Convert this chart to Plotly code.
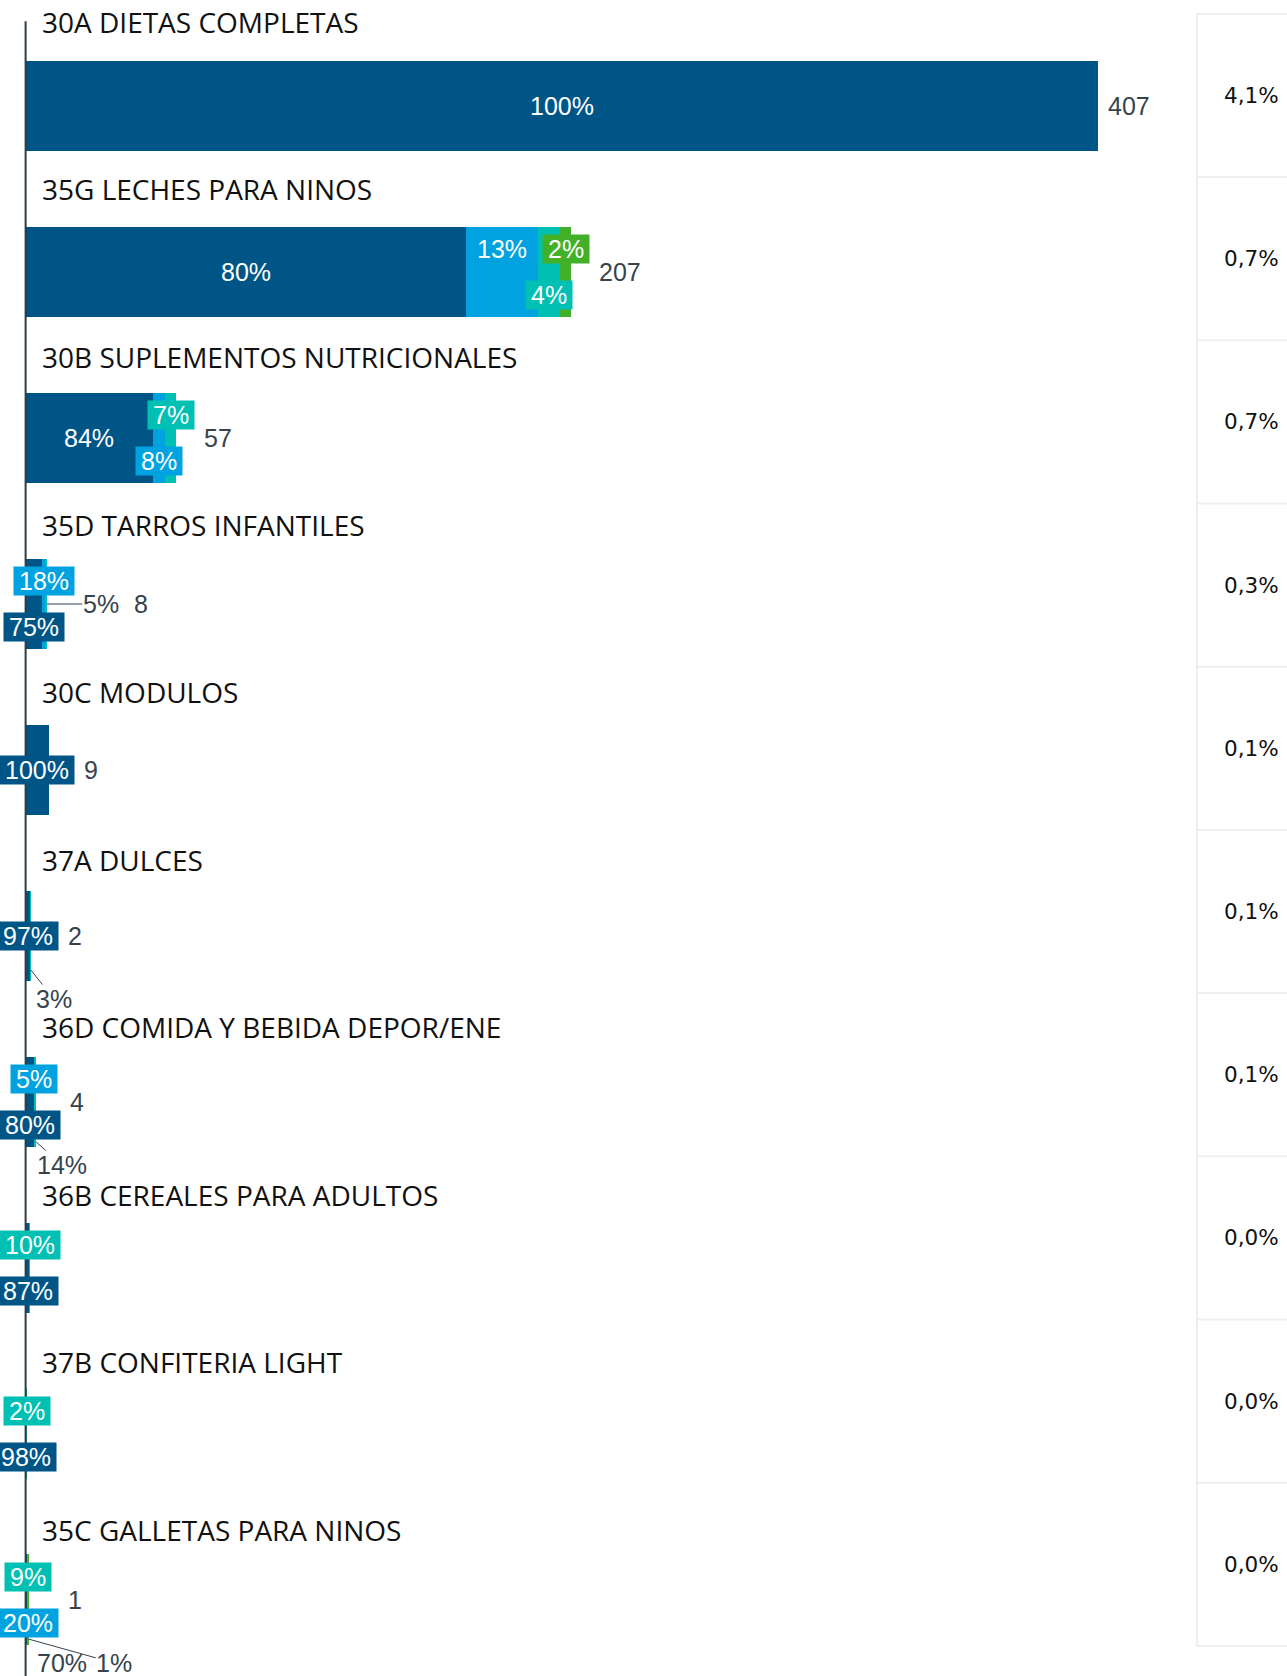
import plotly.graph_objects as go

# ---------------------------------------------------------------- data
categories = [
    "30A DIETAS COMPLETAS",
    "35G LECHES PARA NINOS",
    "30B SUPLEMENTOS NUTRICIONALES",
    "35D TARROS INFANTILES",
    "30C MODULOS",
    "37A DULCES",
    "36D COMIDA Y BEBIDA DEPOR/ENE",
    "36B CEREALES PARA ADULTOS",
    "37B CONFITERIA LIGHT",
    "35C GALLETAS PARA NINOS",
]
totals = [407, 207, 57, 8, 9, 2, 4, 1.6, 0.5, 1]
total_labels = ["407", "207", "57", "8", "9", "2", "4", "", "", "1"]

share_dark = [100, 80, 84, 75, 100, 97, 80, 87, 98, 70]
share_lblue = [0, 13, 8, 18, 0, 0, 5, 0, 0, 20]
share_teal = [0, 4, 7, 5, 0, 3, 14, 10, 2, 9]
share_green = [0, 2, 0, 0, 0, 0, 0, 0, 0, 1]

market_share = [4.1, 0.7, 0.7, 0.3, 0.1, 0.1, 0.1, 0.0, 0.0, 0.0]

# ---------------------------------------------------------------- styling
W, H = 1287, 1676
X_RANGE = [-9.72, 478.7]
Y_RANGE = [9.458, -0.6386]
BAR_W = 0.548

COLORS = {"dark": "#005587", "lblue": "#00a3e0", "teal": "#00bfb3", "green": "#43b02a"}
LABEL_FONT = "Liberation Sans, Arial, sans-serif"
LABEL_SIZE = 25
GREY = "#36434d"

# where each segment's percentage goes: inside the bar, stacked above/below
# the bar centre on a coloured tag, or outside with a leader line
placement = {
    "dark": ["mid", "mid", "mid", "down", "mid", "mid", "down", "down", "down", "out"],
    "lblue": [None, "up", "down", "up", None, None, "up", None, None, "down"],
    "teal": [None, "down", "up", "out", None, "out", "out", "up", "up", "up"],
    "green": [None, "up", None, None, None, None, None, None, None, "out"],
}
# leader lines: (anchor offset below bar centre px, text dx px, text dy px)
leaders = {
    (3, "teal"): (0, 54, 0),
    (5, "teal"): (34, 23, 29),
    (6, "teal"): (40, 26, 23),
    (9, "dark"): (39, 35, 24),
    (9, "green"): (39, 86, 24),
}
TAG_DY = 23


def x_px(v):
    return (v - X_RANGE[0]) / (X_RANGE[1] - X_RANGE[0]) * W


def x_val(px):
    return X_RANGE[0] + px / W * (X_RANGE[1] - X_RANGE[0])


Y_UNIT = H / (Y_RANGE[0] - Y_RANGE[1])


def text_w(s, size=LABEL_SIZE):
    return sum(0.889 if c == "%" else 0.556 for c in s) * size


series = [
    ("dark", share_dark),
    ("lblue", share_lblue),
    ("teal", share_teal),
    ("green", share_green),
]

rows = list(range(len(categories)))
row_sum = [sum(s[i] for _, s in series) for i in rows]
segments = {name: [totals[i] * s[i] / row_sum[i] for i in rows] for name, s in series}

fig = go.Figure()
for name, s in series:
    fig.add_trace(go.Bar(
        orientation="h",
        y=rows,
        x=segments[name],
        width=BAR_W,
        marker=dict(color=COLORS[name], line=dict(width=0)),
        name=name,
        hoverinfo="skip",
    ))

annotations = []
pad = '<span style="font-size:18px">\u00a0</span>'

for i in rows:
    start = 0.0
    rights = [x_px(totals[i])]
    for name, s in series:
        length = segments[name][i]
        if s[i] <= 0:
            start += length
            continue
        end = start + length
        centre = (start + end) / 2
        txt = f"{s[i]}%"
        where = placement[name][i]
        if where in ("mid", "up", "down"):
            dy = {"mid": 0, "up": -TAG_DY, "down": TAG_DY}[where]
            annotations.append(dict(
                x=centre, y=i + dy / Y_UNIT, xref="x", yref="y",
                text=pad + txt + pad, showarrow=False,
                bgcolor=COLORS[name], borderpad=0,
                font=dict(family=LABEL_FONT, size=LABEL_SIZE, color="white"),
            ))
            rights.append(x_px(centre) + text_w(txt) / 2 + 5)
        else:
            off, ax, ay = leaders[(i, name)]
            annotations.append(dict(
                x=end, y=i + off / Y_UNIT, xref="x", yref="y",
                text=txt, showarrow=True, ax=ax, ay=ay,
                axref="pixel", ayref="pixel",
                arrowhead=0, arrowwidth=1, arrowcolor=GREY,
                standoff=0, startstandoff=0, borderpad=0,
                font=dict(family=LABEL_FONT, size=LABEL_SIZE, color=GREY),
            ))
            # only labels sitting on the bar's centre line push the total
            if ay == 0:
                rights.append(x_px(end) + ax + text_w(txt) / 2 + 5)
        start = end

    if total_labels[i]:
        annotations.append(dict(
            x=x_val(max(rights) + 8), y=i, xref="x", yref="y",
            xanchor="left", text=total_labels[i], showarrow=False,
            font=dict(family=LABEL_FONT, size=LABEL_SIZE, color=GREY),
        ))

# category titles above each bar
TITLE_TOP, TITLE_STEP = 22.0, 167.5
for i, cat in enumerate(categories):
    annotations.append(dict(
        x=39.5 / W, y=1 - (TITLE_TOP + TITLE_STEP * i) / H,
        xref="paper", yref="paper", xanchor="left", yanchor="middle",
        text=cat, showarrow=False,
        font=dict(family="Open Sans, sans-serif", size=28, color="#111111"),
    ))

# share column on the right
TABLE_X, TABLE_TOP, TABLE_STEP = 1197, 13.9, 163.2
shapes = [dict(
    type="line", xref="x", yref="y",
    x0=0, x1=0, y0=-0.51, y1=Y_RANGE[0],
    line=dict(color="#2f3b44", width=2),
)]
shapes.append(dict(
    type="line", xref="paper", yref="paper",
    x0=TABLE_X / W, x1=TABLE_X / W,
    y0=1 - TABLE_TOP / H, y1=1 - (TABLE_TOP + TABLE_STEP * len(rows)) / H,
    line=dict(color="#eeeeee", width=2),
))
for k in range(len(rows) + 1):
    yk = 1 - (TABLE_TOP + TABLE_STEP * k) / H
    shapes.append(dict(
        type="line", xref="paper", yref="paper",
        x0=TABLE_X / W, x1=1, y0=yk, y1=yk,
        line=dict(color="#eeeeee", width=2),
    ))
for i, v in enumerate(market_share):
    annotations.append(dict(
        x=1281 / W, y=1 - (TABLE_TOP + TABLE_STEP * (i + 0.5)) / H,
        xref="paper", yref="paper", xanchor="right", yanchor="middle",
        text=f"{v:.1f}%".replace(".", ","), showarrow=False,
        font=dict(family="DejaVu Sans, sans-serif", size=21.5, color="#111111"),
    ))

fig.update_layout(
    width=W, height=H,
    margin=dict(l=0, r=0, t=0, b=0),
    barmode="stack",
    showlegend=False,
    plot_bgcolor="white",
    paper_bgcolor="white",
    xaxis=dict(range=X_RANGE, visible=False, fixedrange=True),
    yaxis=dict(range=Y_RANGE, visible=False, fixedrange=True),
    annotations=annotations,
    shapes=shapes,
)

fig.write_html("out.html")
